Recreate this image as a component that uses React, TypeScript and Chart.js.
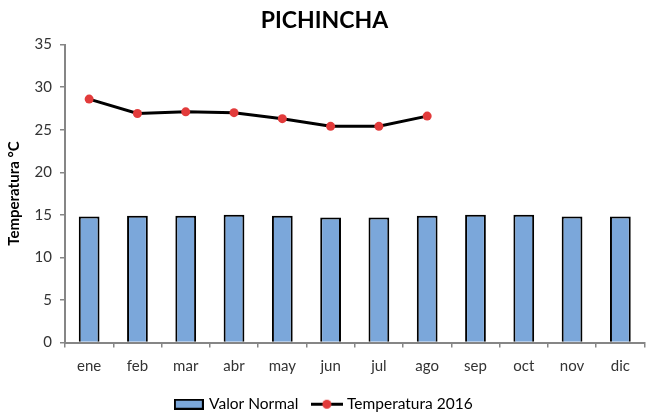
import React, { useEffect, useRef } from "react";
import { Chart, registerables } from "chart.js";

Chart.register(...registerables);

const months = ["ene", "feb", "mar", "abr", "may", "jun", "jul", "ago", "sep", "oct", "nov", "dic"];
const valorNormal = [14.8, 14.9, 14.9, 15.0, 14.9, 14.7, 14.7, 14.9, 15.0, 15.0, 14.8, 14.8];
const temperatura2016 = [28.6, 26.9, 27.1, 27.0, 26.3, 25.4, 25.4, 26.6, null, null, null, null];
const yTicks = [0, 5, 10, 15, 20, 25, 30, 35];

const FONT = "Lato, 'Open Sans', sans-serif";
const BAR_FILL = "#7BA7DA";
const DOT_RED = "#E23B3B";
const AXIS_GRAY = "#868686";
const TEXT = "#333333";

function makeBarGlyph() {
  const c = document.createElement("canvas");
  c.width = 30;
  c.height = 11;
  const ctx = c.getContext("2d")!;
  ctx.fillStyle = BAR_FILL;
  ctx.fillRect(1, 1, 28, 9);
  ctx.strokeStyle = "#000";
  ctx.lineWidth = 2;
  ctx.strokeRect(1, 1, 28, 9);
  return c;
}

function makeLineGlyph() {
  const c = document.createElement("canvas");
  c.width = 32;
  c.height = 11;
  const ctx = c.getContext("2d")!;
  ctx.strokeStyle = "#000";
  ctx.lineWidth = 3;
  ctx.beginPath();
  ctx.moveTo(0, 5.5);
  ctx.lineTo(32, 5.5);
  ctx.stroke();
  ctx.fillStyle = DOT_RED;
  ctx.beginPath();
  ctx.arc(16, 5.5, 4.5, 0, Math.PI * 2);
  ctx.fill();
  return c;
}

export default function App() {
  const ref = useRef<HTMLCanvasElement | null>(null);

  useEffect(() => {
    if (!ref.current) return;
    const barGlyph = makeBarGlyph();
    const lineGlyph = makeLineGlyph();
    const chart = new Chart(ref.current, {
      type: "bar",
      data: {
        labels: months,
        datasets: [
          {
            type: "bar",
            label: "Valor Normal",
            data: valorNormal,
            backgroundColor: BAR_FILL,
            borderColor: "#000",
            borderWidth: 2,
            categoryPercentage: 1,
            barPercentage: 0.43,
          },
          {
            type: "line",
            label: "Temperatura 2016",
            data: temperatura2016 as any,
            borderColor: "#000",
            borderWidth: 3,
            pointBackgroundColor: DOT_RED,
            pointBorderColor: DOT_RED,
            pointRadius: 4.5,
            pointBorderWidth: 0,
            spanGaps: false,
            tension: 0,
          },
        ],
      },
      options: {
        responsive: false,
        animation: false,
        layout: { padding: { left: 0, right: 0, top: 0, bottom: -10 } },
        plugins: {
          title: {
            display: true,
            text: "PICHINCHA",
            color: "#000",
            font: { family: FONT, size: 23, weight: "bold" },
            padding: { top: 7, bottom: 10 },
          },
          legend: {
            position: "bottom",
            labels: {
              usePointStyle: true,
              pointStyleWidth: 25,
              boxHeight: 11,
              color: "#000",
              font: { family: FONT, size: 15.5 },
              padding: 16,
              generateLabels: () => [
                {
                  text: "Valor Normal",
                  pointStyle: barGlyph as any,
                  fillStyle: BAR_FILL,
                  strokeStyle: "#000",
                  lineWidth: 0,
                  hidden: false,
                  datasetIndex: 0,
                },
                {
                  text: "Temperatura 2016",
                  pointStyle: lineGlyph as any,
                  fillStyle: DOT_RED,
                  strokeStyle: "#000",
                  lineWidth: 0,
                  hidden: false,
                  datasetIndex: 1,
                },
              ],
            },
          },
          tooltip: { enabled: false },
        },
        scales: {
          x: {
            grid: {
              display: true,
              offset: true,
              drawOnChartArea: false,
              drawTicks: true,
              tickLength: 5,
              color: AXIS_GRAY,
              lineWidth: 1.5,
            },
            border: { display: true, color: AXIS_GRAY, width: 2 },
            ticks: {
              color: TEXT,
              font: { family: FONT, size: 15 },
              padding: 10,
              maxRotation: 0,
              autoSkip: false,
            },
            afterFit: (scale: any) => {
              scale.height = 38;
            },
          },
          y: {
            min: 0,
            max: 35,
            afterBuildTicks: (scale: any) => {
              scale.ticks = yTicks.map((v) => ({ value: v }));
            },
            grid: {
              display: true,
              drawOnChartArea: false,
              drawTicks: true,
              tickLength: 5,
              color: AXIS_GRAY,
              lineWidth: 1.5,
            },
            border: { display: true, color: AXIS_GRAY, width: 2 },
            ticks: {
              color: TEXT,
              font: { family: FONT, size: 15 },
              padding: 8,
            },
            title: {
              display: true,
              text: "Temperatura °C",
              color: "#000",
              font: { family: FONT, size: 15, weight: "bold" },
              padding: { top: 5, bottom: 0 },
            },
            afterFit: (scale: any) => {
              scale.width = 65;
            },
          },
        },
      },
    });
    return () => chart.destroy();
  }, []);

  return (
    <div style={{ position: "fixed", left: 0, top: 0, width: 649, height: 412, background: "#fff" }}>
      <canvas ref={ref} width={649} height={412} style={{ width: 649, height: 412, display: "block" }} />
    </div>
  );
}
